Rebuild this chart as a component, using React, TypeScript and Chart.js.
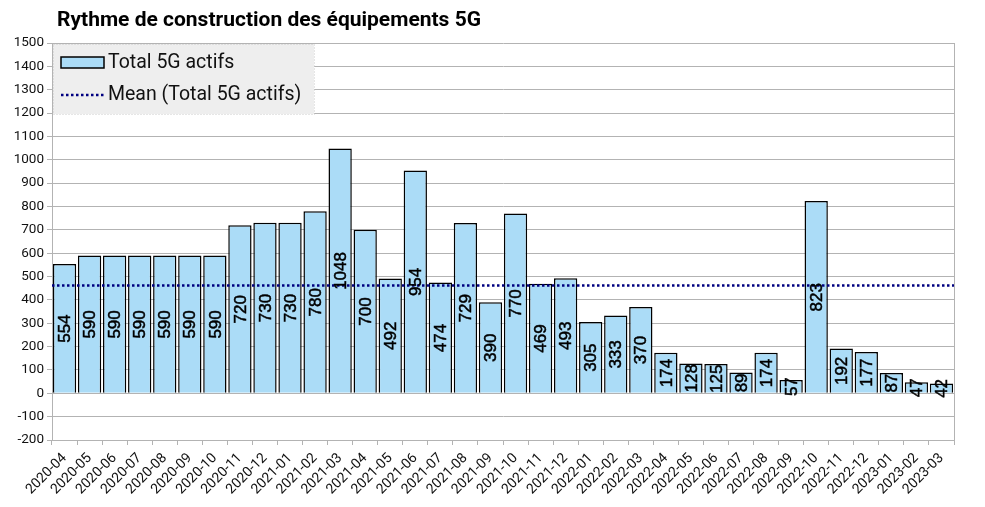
import { useEffect, useRef } from "react"
import { Chart, ChartConfiguration, Plugin, registerables } from "chart.js"

Chart.register(...registerables)

const months = [
  "2020-04", "2020-05", "2020-06", "2020-07", "2020-08", "2020-09", "2020-10", "2020-11", "2020-12",
  "2021-01", "2021-02", "2021-03", "2021-04", "2021-05", "2021-06", "2021-07", "2021-08", "2021-09",
  "2021-10", "2021-11", "2021-12", "2022-01", "2022-02", "2022-03", "2022-04", "2022-05", "2022-06",
  "2022-07", "2022-08", "2022-09", "2022-10", "2022-11", "2022-12", "2023-01", "2023-02", "2023-03"
]

const totalActifs = [
  554, 590, 590, 590, 590, 590, 590, 720, 730,
  730, 780, 1048, 700, 492, 954, 474, 729, 390,
  770, 469, 493, 305, 333, 370, 174, 128, 125,
  89, 174, 57, 823, 192, 177, 87, 47, 42
]

const title = "Rythme de construction des équipements 5G"
const seriesName = "Total 5G actifs"
const meanName = "Mean (Total 5G actifs)"

const mean = totalActifs.reduce((a, b) => a + b, 0) / totalActifs.length

const BAR_COLOR = "#abdcf7"
const MEAN_COLOR = "#000080"
const GRID_COLOR = "#b3b3b3"
const FONT = "Roboto, 'Liberation Sans', sans-serif"

// title, legend box, mean line, right border and value labels
const decorations: Plugin<"bar"> = {
  id: "decorations",
  beforeDatasetsDraw(chart) {
    const { ctx, chartArea } = chart
    ctx.save()
    // right border
    ctx.strokeStyle = GRID_COLOR
    ctx.lineWidth = 1
    ctx.beginPath()
    ctx.moveTo(chartArea.right + 0.5, chartArea.top)
    ctx.lineTo(chartArea.right + 0.5, chartArea.bottom + 5)
    ctx.stroke()

    // legend box
    const lx = chartArea.left + 1
    const ly = chartArea.top + 1
    const lw = 261
    const lh = 70
    ctx.fillStyle = "#eeeeee"
    ctx.fillRect(lx, ly, lw, lh)
    ctx.setLineDash([1, 2])
    ctx.strokeStyle = "#cccccc"
    ctx.strokeRect(lx + 0.5, ly + 0.5, lw, lh)
    ctx.setLineDash([])

    ctx.fillStyle = BAR_COLOR
    ctx.fillRect(lx + 8, ly + 13, 43, 11)
    ctx.strokeStyle = "#000"
    ctx.lineWidth = 1.5
    ctx.strokeRect(lx + 8, ly + 13, 43, 11)

    ctx.strokeStyle = MEAN_COLOR
    ctx.lineWidth = 2.5
    ctx.setLineDash([2.5, 2.5])
    ctx.beginPath()
    ctx.moveTo(lx + 8, ly + 51)
    ctx.lineTo(lx + 52, ly + 51)
    ctx.stroke()
    ctx.setLineDash([])

    ctx.fillStyle = "#111"
    ctx.font = `19.5px ${FONT}`
    ctx.textBaseline = "middle"
    ctx.textAlign = "left"
    ctx.fillText(seriesName, lx + 55, ly + 19)
    ctx.fillText(meanName, lx + 55, ly + 51)
    ctx.restore()
  },
  afterDatasetsDraw(chart) {
    const { ctx, chartArea, scales } = chart
    const y = scales.y
    ctx.save()
    // mean line
    const my = Math.round(y.getPixelForValue(mean)) + 0.5
    ctx.strokeStyle = MEAN_COLOR
    ctx.lineWidth = 2.5
    ctx.setLineDash([2.5, 2.5])
    ctx.beginPath()
    ctx.moveTo(chartArea.left, my)
    ctx.lineTo(chartArea.right, my)
    ctx.stroke()
    ctx.setLineDash([])

    // value labels, rotated, centred in each bar
    const meta = chart.getDatasetMeta(0)
    ctx.fillStyle = "#000"
    ctx.strokeStyle = "#000"
    ctx.lineWidth = 0.5
    ctx.font = `17px 'Liberation Sans', Arial, sans-serif`
    ctx.textAlign = "center"
    ctx.textBaseline = "middle"
    meta.data.forEach((bar, i) => {
      const v = totalActifs[i]
      const cy = (y.getPixelForValue(v) + y.getPixelForValue(0)) / 2
      ctx.save()
      ctx.translate(bar.x + 1, cy)
      ctx.rotate(-Math.PI / 2)
      ctx.fillText(String(v), 0, 0)
      ctx.strokeText(String(v), 0, 0)
      ctx.restore()
    })

    // title
    ctx.fillStyle = "#000"
    ctx.font = `bold 21px ${FONT}`
    ctx.textAlign = "left"
    ctx.textBaseline = "middle"
    ctx.fillText(title, chartArea.left + 5, 21)
    ctx.restore()
  }
}

export default function App() {
  const chartRef = useRef<HTMLCanvasElement>(null)

  useEffect(() => {
    document.body.style.margin = "0"
    if (!chartRef.current) return
    const ctx = chartRef.current.getContext("2d")
    if (!ctx) return

    const config: ChartConfiguration<"bar"> = {
      type: "bar",
      data: {
        labels: months,
        datasets: [{
          label: seriesName,
          data: totalActifs,
          backgroundColor: BAR_COLOR,
          borderColor: "#000",
          borderWidth: 1.5,
          barPercentage: 0.93,
          categoryPercentage: 1
        }]
      },
      options: {
        animation: false,
        responsive: true,
        maintainAspectRatio: false,
        layout: { padding: { top: 43, right: 31, left: 0, bottom: 0 } },
        plugins: {
          legend: { display: false },
          tooltip: { enabled: false },
          title: { display: false }
        },
        scales: {
          x: {
            offset: true,
            grid: {
              offset: true,
              drawOnChartArea: false,
              drawTicks: true,
              tickLength: 5,
              color: GRID_COLOR
            },
            border: { color: GRID_COLOR },
            ticks: {
              autoSkip: false,
              maxRotation: 45,
              minRotation: 45,
              color: "#111",
              padding: 5,
              font: { family: FONT, size: 14 }
            },
            afterFit(scale) {
              scale.height = 67
            }
          },
          y: {
            min: -200,
            max: 1500,
            ticks: {
              stepSize: 100,
              color: "#111",
              padding: 3,
              font: { family: FONT, size: 13.5 },
              callback: (v) => String(v)
            },
            grid: {
              color: GRID_COLOR,
              tickLength: 5
            },
            border: { color: GRID_COLOR },
            afterFit(scale) {
              scale.width = 52
            }
          }
        }
      },
      plugins: [decorations]
    }

    const chart = new Chart(ctx, config)
    return () => chart.destroy()
  }, [])

  return (
    <div style={{ position: "relative", width: 985, height: 507 }}>
      <canvas ref={chartRef} />
    </div>
  )
}
